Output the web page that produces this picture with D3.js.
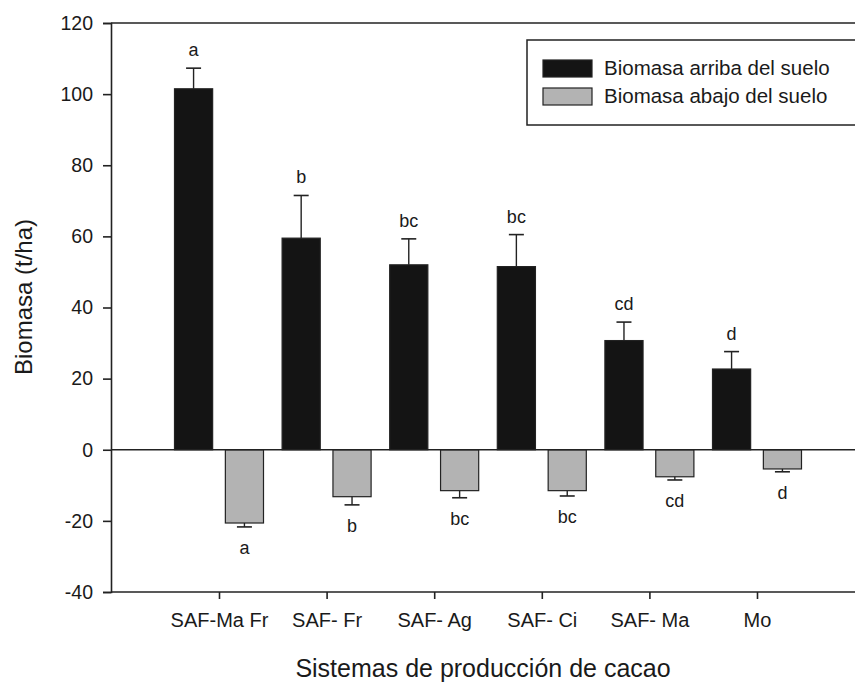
<!DOCTYPE html>
<html>
<head>
<meta charset="utf-8">
<script src="https://cdn.jsdelivr.net/npm/d3@7"></script>
<style>
  body { margin: 0; background: #fff; }
  text { font-family: "Liberation Sans", Arial, sans-serif; fill: #1a1a1a; }
</style>
</head>
<body>
<div id="chartDiv"></div>
<script>
// data
var sistemas = ['SAF-Ma Fr', 'SAF- Fr', 'SAF- Ag', 'SAF- Ci', 'SAF- Ma', 'Mo'];
var series = ['Biomasa arriba del suelo', 'Biomasa abajo del suelo'];
var arriba = [101.5, 59.5, 52, 51.5, 30.7, 22.7];
var arribaErr = [5.8, 12, 7.3, 9, 5.2, 4.9];
var abajo = [-20.6, -13.2, -11.5, -11.5, -7.6, -5.4];
var abajoErr = [1.1, 2.3, 2, 1.5, 0.9, 0.8];
var letrasArriba = ['a', 'b', 'bc', 'bc', 'cd', 'd'];
var letrasAbajo = ['a', 'b', 'bc', 'bc', 'cd', 'd'];
var yTicks = [-40, -20, 0, 20, 40, 60, 80, 100, 120];

var w = 855, h = 683;
var padL = 111, padR = 862, padT = 23, padB = 592;

var svg = d3.select('#chartDiv').append('svg')
  .attr('width', w)
  .attr('height', h);

var y = d3.scaleLinear().domain([-40, 120]).range([padB, padT]);
var x = d3.scalePoint().domain(sistemas).range([219, 757]);
var sub = d3.scaleBand().domain(series).range([-44.5, 44.5]).paddingInner(0.25);

// rows for both series
var rows = [];
sistemas.forEach(function(s, i) {
  rows.push({ cat: s, serie: series[0], v: arriba[i], err: arribaErr[i], letra: letrasArriba[i] });
  rows.push({ cat: s, serie: series[1], v: abajo[i], err: abajoErr[i], letra: letrasAbajo[i] });
});
var color = d3.scaleOrdinal().domain(series).range(['#141414', '#b3b3b3']);

// top frame line
svg.append('path')
  .attr('d', 'M' + padL + ',' + padT + 'H' + padR)
  .attr('stroke', '#222').attr('stroke-width', 1.6).attr('fill', 'none');

// bars
svg.selectAll('rect.bar').data(rows).enter().append('rect')
  .attr('class', 'bar')
  .attr('x', function(d) { return x(d.cat) + sub(d.serie); })
  .attr('width', sub.bandwidth())
  .attr('y', function(d) { return y(Math.max(0, d.v)); })
  .attr('height', function(d) { return Math.abs(y(d.v) - y(0)); })
  .attr('fill', function(d) { return color(d.serie); })
  .attr('stroke', '#222')
  .attr('stroke-width', 1.2);

// error bars (one-sided)
var errEnd = function(d) { return y(d.v < 0 ? d.v - d.err : d.v + d.err); };
var eb = svg.selectAll('g.err').data(rows).enter().append('g').attr('class', 'err')
  .attr('transform', function(d) { return 'translate(' + (x(d.cat) + sub(d.serie) + sub.bandwidth() / 2) + ',0)'; });
eb.append('line')
  .attr('y1', function(d) { return y(d.v); })
  .attr('y2', errEnd)
  .attr('stroke', '#222').attr('stroke-width', 1.4);
eb.append('line')
  .attr('x1', -7.5).attr('x2', 7.5)
  .attr('y1', errEnd).attr('y2', errEnd)
  .attr('stroke', '#222').attr('stroke-width', 1.6);
eb.append('text')
  .attr('text-anchor', 'middle')
  .style('font-size', '18px')
  .attr('y', function(d) {
    return d.v < 0 ? errEnd(d) + 27 : errEnd(d) - 12;
  })
  .text(function(d) { return d.letra; });

// zero line
svg.append('line')
  .attr('x1', padL).attr('x2', padR)
  .attr('y1', y(0)).attr('y2', y(0))
  .attr('stroke', '#222').attr('stroke-width', 1.6);

// Y axis (plain hyphen for negatives, like the original)
var yAxis = d3.axisLeft(y).tickValues(yTicks).tickSize(8).tickPadding(10)
  .tickFormat(function(d) { return String(d); });
var gy = svg.append('g')
  .attr('transform', 'translate(' + padL + ',0)')
  .call(yAxis);
gy.selectAll('text').style('font-size', '19.5px');

// X axis
var xAxis = d3.axisBottom(x).tickSize(7).tickPadding(14);
var gx = svg.append('g')
  .attr('transform', 'translate(0,' + padB + ')')
  .call(xAxis);
gx.select('.domain').attr('d', 'M' + padL + ',0H' + padR);
gx.selectAll('text').style('font-size', '20px');

svg.selectAll('.domain, .tick line').attr('stroke', '#222').attr('stroke-width', 1.6);
svg.selectAll('.tick text').attr('fill', '#1a1a1a');

// axis titles
svg.append('text')
  .attr('transform', 'translate(32,297) rotate(-90)')
  .attr('text-anchor', 'middle')
  .style('font-size', '24px')
  .text('Biomasa (t/ha)');

svg.append('text')
  .attr('x', 483).attr('y', 677)
  .attr('text-anchor', 'middle')
  .style('font-size', '25px')
  .text('Sistemas de producción de cacao');

// legend
var lg = svg.append('g').attr('transform', 'translate(527,40)');
lg.append('rect')
  .attr('width', 340).attr('height', 85)
  .attr('fill', '#fff').attr('stroke', '#222').attr('stroke-width', 1.5);
var item = lg.selectAll('g.item').data(series).enter().append('g')
  .attr('class', 'item')
  .attr('transform', function(d, i) { return 'translate(16,' + (20 + i * 28) + ')'; });
item.append('rect')
  .attr('width', 49).attr('height', 17)
  .attr('fill', function(d) { return color(d); })
  .attr('stroke', '#222').attr('stroke-width', 1.2);
item.append('text')
  .attr('x', 61).attr('y', 15)
  .style('font-size', '20.5px')
  .text(function(d) { return d; });
</script>
</body>
</html>
